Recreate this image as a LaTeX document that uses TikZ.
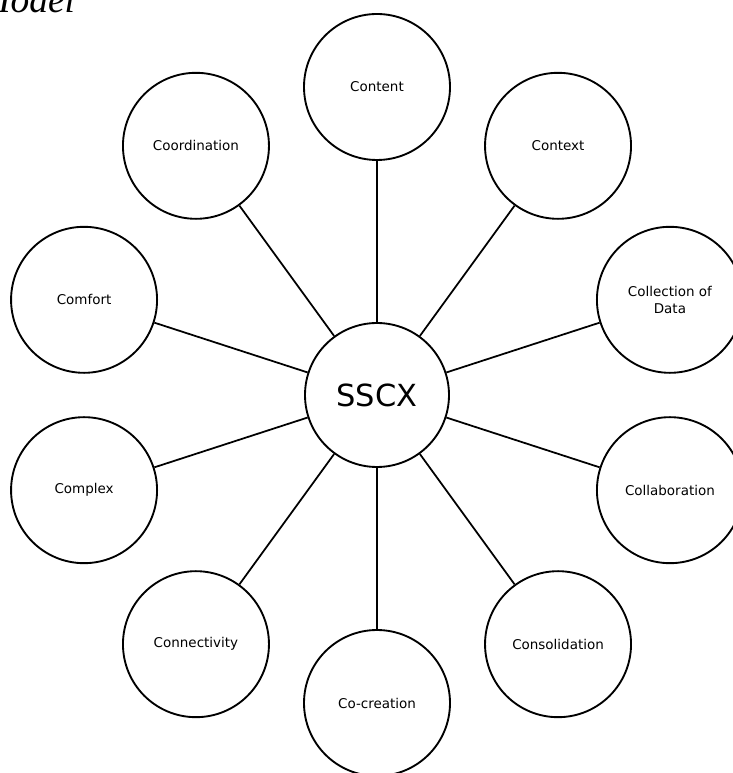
\documentclass[tikz,border=0pt]{standalone}
\usepackage{fontspec}
\setmainfont{Liberation Serif}
\setsansfont{DejaVu Sans}
\usepackage{tikz}
\tikzset{basic/.style={draw,line width=1.6pt,fill=white,circle,inner sep=0pt,text badly centered,font=\sffamily\fontsize{11.5}{15}\selectfont}}
\tikzset{outer/.style={basic,minimum size=4.38cm,text width=3.6cm}}
\tikzset{hub/.style={basic,minimum size=4.32cm,font=\sffamily\fontsize{26}{30}\selectfont}}
\tikzset{spoke/.style={draw,line width=1.5pt}}

\begin{document}
\begin{tikzpicture}
        \useasboundingbox (-11.31,-11.34) rectangle (10.65,11.85);
        \node[anchor=base east,font=\itshape\fontsize{32}{36}\selectfont,inner sep=0pt] (caption) at (-9.05,11.47) {Model};
        \node[hub] (center) at (0,0) {SSCX};

        \node[outer] (content) at (90:9.24) {Content};
            \path[spoke] (center) -- (content);
        \node[outer] (context) at (54:9.24) {Context};
            \path[spoke] (center) -- (context);
        \node[outer] (collection) at (18:9.24) {Collection of\\Data};
            \path[spoke] (center) -- (collection);
        \node[outer] (collaboration) at (-18:9.24) {Collaboration};
            \path[spoke] (center) -- (collaboration);
        \node[outer] (consolidation) at (-54:9.24) {Consolidation};
            \path[spoke] (center) -- (consolidation);
        \node[outer] (cocreation) at (-90:9.24) {Co-creation};
            \path[spoke] (center) -- (cocreation);
        \node[outer] (connectivity) at (-126:9.24) {Connectivity};
            \path[spoke] (center) -- (connectivity);
        \node[outer] (complex) at (-162:9.24) {Complex};
            \path[spoke] (center) -- (complex);
        \node[outer] (comfort) at (162:9.24) {Comfort};
            \path[spoke] (center) -- (comfort);
        \node[outer] (coordination) at (126:9.24) {Coordination};
            \path[spoke] (center) -- (coordination);

    \end{tikzpicture}
\end{document}
